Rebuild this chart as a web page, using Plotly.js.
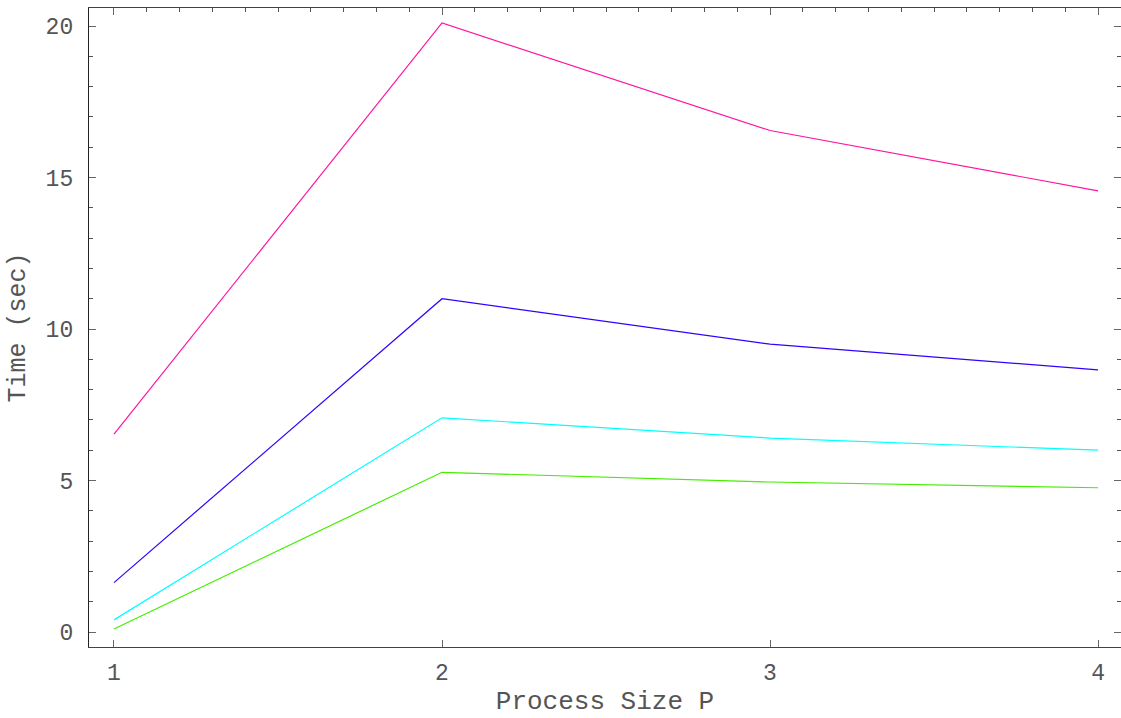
<!DOCTYPE html>
<html>
<head>
<meta charset="utf-8">
<script src="https://cdn.plot.ly/plotly-3.0.1.min.js"></script>
<style>html,body{margin:0;padding:0;background:#fff;}#chart{width:1121px;height:718px;}</style>
</head>
<body>
<div id="chart"></div>
<script>
const processSizes = [1, 2, 3, 4];
const seriesMagenta = [6.53, 20.1, 16.55, 14.56];
const seriesBlue = [1.63, 11.0, 9.5, 8.65];
const seriesCyan = [0.40, 7.07, 6.40, 6.0];
const seriesGreen = [0.10, 5.27, 4.95, 4.76];
const seriesColors = ['#ff14a0', '#3300ff', '#00ffff', '#44ee00'];
const xTickVals = [1, 2, 3, 4];
const yTickVals = [0, 5, 10, 15, 20];

const allSeries = [seriesMagenta, seriesBlue, seriesCyan, seriesGreen];
const traces = allSeries.map((ys, i) => ({
  x: processSizes, y: ys, type: 'scatter', mode: 'lines',
  line: {color: seriesColors[i], width: 1.2},
  showlegend: false, hoverinfo: 'skip'
}));
// invisible trace to enable overlay axes
traces.push({x: [processSizes[0]], y: [0], xaxis: 'x2', yaxis: 'y2', mode: 'markers',
  marker: {opacity: 0}, showlegend: false, hoverinfo: 'skip'});

const fnt = {family: '"Liberation Mono", "Courier New", monospace', size: 23, color: '#555'};
const xr = [0.9238, 4.070];
const yr = [-0.495, 20.594];

const layout = {
  width: 1121, height: 718,
  margin: {l: 89, r: 0, t: 8, b: 71},
  paper_bgcolor: '#fff', plot_bgcolor: '#fff',
  font: fnt,
  xaxis: {
    range: xr, tickvals: xTickVals, ticktext: xTickVals.map(String),
    ticks: 'inside', ticklen: 7, tickwidth: 1, tickcolor: '#666',
    showline: true, linecolor: '#444', linewidth: 1.2,
    showgrid: false, zeroline: false, tickfont: fnt, ticklabelstandoff: 4,
    title: {text: 'Process Size P', font: {family: fnt.family, size: 26, color: '#555'}, standoff: 5}
  },
  xaxis2: {
    range: xr, overlaying: 'x', side: 'top', anchor: 'y',
    tickvals: xTickVals, showticklabels: false,
    ticks: 'inside', ticklen: 7, tickwidth: 1, tickcolor: '#666',
    minor: {dtick: 0.1, tick0: 1, ticks: 'inside', ticklen: 4, tickcolor: '#555', showgrid: false},
    showline: true, linecolor: '#444', linewidth: 1.2,
    showgrid: false, zeroline: false
  },
  yaxis: {
    range: yr, tickvals: yTickVals, ticktext: yTickVals.map(String),
    ticks: 'inside', ticklen: 7, tickwidth: 1, tickcolor: '#666',
    minor: {dtick: 1, tick0: 0, ticks: 'inside', ticklen: 4, tickcolor: '#555', showgrid: false},
    showline: true, linecolor: '#222', linewidth: 1.2,
    showgrid: false, zeroline: false, tickfont: fnt, ticklabelstandoff: 10,
    title: {text: 'Time (sec)', font: {family: fnt.family, size: 25, color: '#555'}, standoff: 12}
  },
  yaxis2: {
    range: yr, overlaying: 'y', side: 'right', anchor: 'x',
    tickvals: yTickVals, showticklabels: false,
    ticks: 'inside', ticklen: 7, tickwidth: 1, tickcolor: '#666',
    minor: {dtick: 1, tick0: 0, ticks: 'inside', ticklen: 4, tickcolor: '#555', showgrid: false},
    showline: false, showgrid: false, zeroline: false
  }
};

Plotly.newPlot('chart', traces, layout, {displayModeBar: false, staticPlot: true});
</script>
</body>
</html>
